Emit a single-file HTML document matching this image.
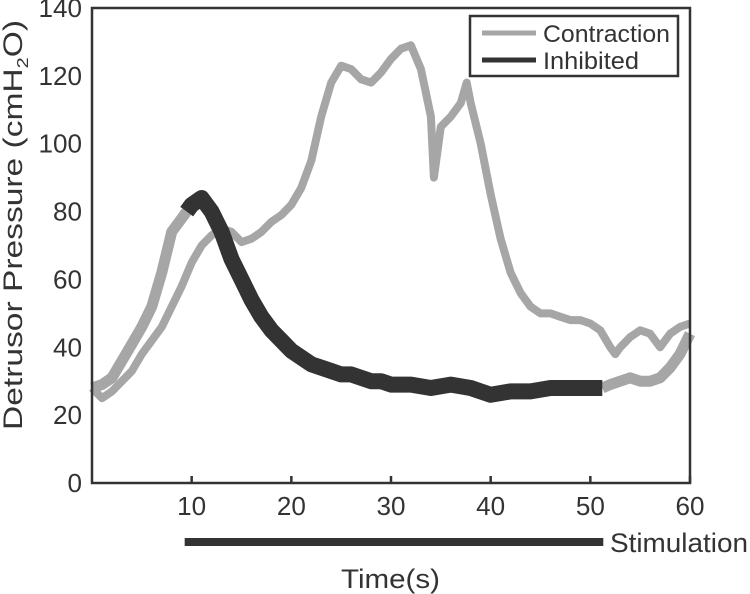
<!DOCTYPE html>
<html><head><meta charset="utf-8"><style>
body{margin:0;background:#fff;}
svg{display:block;font-family:"Liberation Sans Narrow","Liberation Sans",sans-serif;}
</style></head><body>
<svg id="chart" width="750" height="594" viewBox="0 0 750 594" xmlns="http://www.w3.org/2000/svg">
<g id="marks"></g>
<rect x="92" y="8" width="598" height="475" fill="none" stroke="#333" stroke-width="2.5"/>
<g id="ticks"></g>
<text transform="translate(22,225) rotate(-90)" text-anchor="middle" font-size="27" fill="#333" textLength="410" lengthAdjust="spacingAndGlyphs">Detrusor Pressure (cmH<tspan font-size="16" dy="6">2</tspan><tspan dy="-6">O)</tspan></text>
<text x="341" y="588" font-size="27" fill="#333" textLength="99" lengthAdjust="spacingAndGlyphs">Time(s)</text>
<g>
<rect x="470" y="16" width="208" height="60" fill="#fff" stroke="#333" stroke-width="2.5"/>
<line x1="482" y1="33" x2="536" y2="33" stroke="#a6a6a6" stroke-width="5"/>
<text x="543" y="42" font-size="24" fill="#333" textLength="127" lengthAdjust="spacingAndGlyphs">Contraction</text>
<line x1="482" y1="60" x2="536" y2="60" stroke="#333" stroke-width="5"/>
<text x="543" y="69" font-size="24" fill="#333" textLength="96" lengthAdjust="spacingAndGlyphs">Inhibited</text>
</g>
<text x="610" y="552" font-size="27" fill="#333" textLength="138" lengthAdjust="spacingAndGlyphs">Stimulation</text>
</svg>
<script>
const contractionT=[0,1,2,3,4,5,6,7,8,9,10,11,12,13,14,15,16,17,18,19,20,21,22,23,24,25,26,27,28,29,30,31,32,33,34,34.3,35,36,37,37.6,38,39,40,41,42,43,44,45,46,47,48,49,50,51,52,52.5,53,54,55,56,57,58,59,60];
const contractionV=[28,25,27,30,33,38,42,46,52,58,65,70,73,75,74,71,72,74,77,79,82,87,95,108,118,123,122,119,118,121,125,128,129,122,108,90,105,108,112,118,112,100,85,72,62,56,52,50,50,49,48,48,47,45,40,38,40,43,45,44,40,44,46,47];
const preT=[0,1,2,3,4,5,6,7,8,9,9.5];
const preV=[28,29,31,36,41,46,52,62,74,78,80];
const inhibT=[9.5,10,11,12,13,14,15,16,17,18,19,20,21,22,23,24,25,26,27,28,29,30,32,34,36,38,40,42,44,46,48,50,51.2];
const inhibV=[80,82,84,80,74,66,60,54,49,45,42,39,37,35,34,33,32,32,31,30,30,29,29,28,29,28,26,27,27,28,28,28,28];
const postT=[51.2,52,53,54,55,56,57,58,59,60];
const postV=[28,29,30,31,30,30,31,34,38,44];
const stimStart=9.3, stimEnd=51.3;
const xTicks=[10,20,30,40,50,60];
const yTicks=[0,20,40,60,80,100,120,140];
const X=t=>92+t*(598/60);
const Y=v=>483-v*(475/140);
const NS='http://www.w3.org/2000/svg';
const marks=document.getElementById('marks');
function line(ts,vs,color,w,name){
  const p=document.createElementNS(NS,'path');
  p.setAttribute('d',ts.map((t,i)=>(i?'L':'M')+X(t).toFixed(1)+','+Y(vs[i]).toFixed(1)).join(''));
  p.setAttribute('fill','none');p.setAttribute('stroke',color);p.setAttribute('stroke-width',w);
  p.setAttribute('stroke-linejoin','round');
  
  
  marks.appendChild(p);
}
line(contractionT,contractionV,'#a6a6a6',8,'contraction-line');
line(preT,preV,'#a6a6a6',11,'inhibited-pre-stim-line');
line(postT,postV,'#a6a6a6',11,'inhibited-post-stim-line');
line(inhibT,inhibV,'#333',16,'inhibited-line');
const svg=document.getElementById('chart');
const bar=document.createElementNS(NS,'rect');
bar.setAttribute('x',X(stimStart));bar.setAttribute('y',538);
bar.setAttribute('width',X(stimEnd)-X(stimStart));bar.setAttribute('height',8);
bar.setAttribute('fill','#333');


svg.appendChild(bar);
const tk=document.getElementById('ticks');
xTicks.forEach(t=>{
  const l=document.createElementNS(NS,'line');
  l.setAttribute('x1',X(t));l.setAttribute('x2',X(t));l.setAttribute('y1',483);l.setAttribute('y2',476);
  l.setAttribute('stroke','#333');l.setAttribute('stroke-width',2.5);
  
  
  tk.appendChild(l);
  const s=document.createElementNS(NS,'text');
  s.setAttribute('x',X(t));s.setAttribute('y',515);s.setAttribute('text-anchor','middle');
  s.setAttribute('font-size','26');s.setAttribute('fill','#333');s.textContent=t;
  s.setAttribute('textLength',29);s.setAttribute('lengthAdjust','spacingAndGlyphs');
  
  
  tk.appendChild(s);
});
yTicks.forEach(v=>{
  const s=document.createElementNS(NS,'text');
  s.setAttribute('x',82);s.setAttribute('y',Y(v)+9);s.setAttribute('text-anchor','end');
  s.setAttribute('font-size','26');s.setAttribute('fill','#333');s.textContent=v;
  s.setAttribute('textLength',String(v).length*14.5);s.setAttribute('lengthAdjust','spacingAndGlyphs');
  
  
  tk.appendChild(s);
});
</script>
</body></html>
